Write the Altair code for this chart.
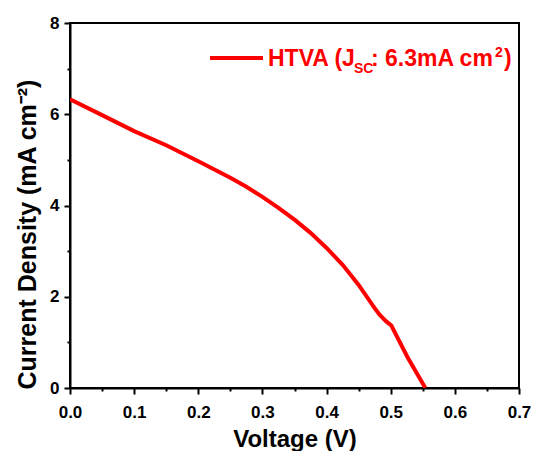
import altair as alt
import pandas as pd

voltage = [0.0, 0.05, 0.1, 0.15, 0.2, 0.25, 0.275, 0.3, 0.325, 0.35, 0.375, 0.4,
           0.425, 0.45, 0.476, 0.483, 0.493, 0.501, 0.526, 0.554]
current = [6.33, 5.98, 5.63, 5.32, 4.97, 4.61, 4.41, 4.19, 3.95, 3.69, 3.40, 3.07,
           2.70, 2.26, 1.73, 1.60, 1.46, 1.37, 0.68, 0.0]

x_ticks = [round(i * 0.05, 2) for i in range(15)]
y_ticks = list(range(9))

legend_parts = ["HTVA (J", "SC", ": 6.3mA cm", "2", ")"]

df = pd.DataFrame({"V": voltage, "J": current})

FONT = "Liberation Sans"
RED = "#ff0000"
W, H = 449, 365

x_axis = alt.Axis(
    values=x_ticks,
    labelExpr="abs(datum.value*10 - round(datum.value*10)) < 0.001 ? format(datum.value, '.1f') : ''",
    tickSize={"condition": {"test": "abs(datum.value*10 - round(datum.value*10)) < 0.001", "value": 6}, "value": 3},
    tickWidth=2, tickColor="black", domainColor="black", domainWidth=2,
    labelFont=FONT, labelFontWeight="bold", labelFontSize=17, labelColor="black",
    labelPadding=10, labelFlush=False,
    title="Voltage (V)", titleFont=FONT, titleFontWeight="bold", titleFontSize=24,
    titleColor="black", titleX=W / 2, titleY=58, titleBaseline="alphabetic",
    titleAlign="center", grid=False,
)
y_axis = alt.Axis(
    values=y_ticks,
    labelExpr="datum.value % 2 == 0 ? datum.value : ''",
    tickSize={"condition": {"test": "datum.value % 2 == 0", "value": 6}, "value": 3},
    tickWidth=2, tickColor="black", domainColor="black", domainWidth=2,
    labelFont=FONT, labelFontWeight="bold", labelFontSize=17, labelColor="black",
    labelPadding=5, labelFlush=False,
    title="Current Density (mA cm⁻²)", titleFont=FONT, titleFontWeight="bold",
    titleFontSize=25, titleColor="black", titleX=-43, titleY=211,
    titleBaseline="middle", titleAlign="center", titleAngle=270, grid=False,
)

line = alt.Chart(df).mark_line(color=RED, strokeWidth=4, clip=True).encode(
    x=alt.X("V:Q", scale=alt.Scale(domain=[0, 0.7], nice=False, zero=False), axis=x_axis),
    y=alt.Y("J:Q", scale=alt.Scale(domain=[0, 8], nice=False), axis=y_axis),
)

leg_line = alt.Chart(pd.DataFrame({"a": [0]})).mark_rule(color=RED, strokeWidth=4).encode(
    x=alt.value(140), x2=alt.value(193), y=alt.value(35)
)


def txt(s, x, y, size):
    return alt.Chart(pd.DataFrame({"t": [s]})).mark_text(
        color=RED, font=FONT, fontWeight="bold", fontSize=size, align="left",
        baseline="alphabetic"
    ).encode(text="t:N", x=alt.value(x), y=alt.value(y))


t1 = txt(legend_parts[0], 198, 43, 23)
t2 = txt(legend_parts[1], 284, 50, 14)
t3 = txt(legend_parts[2], 301, 43, 23)
t4 = txt(legend_parts[3], 425, 34, 14)
t5 = txt(legend_parts[4], 434, 43, 23)

chart = alt.layer(line, leg_line, t1, t2, t3, t4, t5).properties(
    width=W, height=H,
    autosize=alt.AutoSizeParams(type="none"),
    padding={"left": 62, "top": 15, "right": 12, "bottom": 63},
    background="white",
).configure_view(stroke="black", strokeWidth=2)

chart.save("out.html", embed_options={"renderer": "svg", "actions": False})
